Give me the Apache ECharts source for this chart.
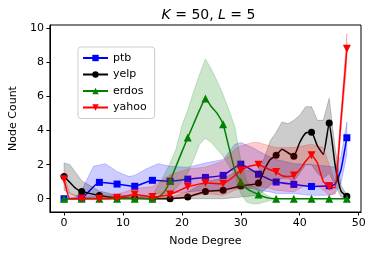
<!DOCTYPE html>
<html><head><meta charset="utf-8">
<script src="https://cdn.jsdelivr.net/npm/echarts@6/dist/echarts.min.js"></script>
<style>html,body{margin:0;padding:0;background:#fff}#c{width:374px;height:255px}</style>
</head><body><div id="c"></div>
<script>
// ---- data ----
const markerDegrees = [0,3,6,9,12,15,18,21,24,27,30,33,36,39,42,45,48];
const xTicks = [0,10,20,30,40,50];
const yTicks = [0,2,4,6,8,10];

const ptbX    = [0,3,6,9,12,15,18,21,24,27,30,33,36,39,42,45,46,47,48];
const ptbMean = [0.0,0.05,0.96,0.86,0.73,1.08,1.03,1.15,1.25,1.37,2.03,1.44,0.98,0.84,0.72,0.76,0.85,1.7,3.58];
const ptbBandX  = [0,2,3,5,7,9,11,12,14,16,18,21,24,27,29,30,32,33,35,36,39,42,45,46,47,48];
const ptbUpper  = [0,0.1,0.5,1.9,2.06,1.6,1.3,1.37,1.76,2.06,1.9,1.85,2.1,2.3,3.2,3.3,3.0,2.8,2.45,2.3,2.06,2.0,1.9,1.85,2.5,4.5];
const ptbLower  = [0,0,0,0.1,0.2,0.2,0.2,0.2,0.2,0.3,0.3,0.4,0.5,0.5,0.6,0.6,0.6,0.5,0.4,0.3,0.3,0.2,0.2,0.3,0.9,2.6];

const yelpX    = [0,1,2,3,6,9,12,15,18,21,24,27,30,33,34,35,36,37,38,39,40,41,42,43,44,45,46,47,48];
const yelpMean = [1.31,0.95,0.6,0.43,0.19,0.05,0.03,0.0,0.0,0.1,0.43,0.5,0.75,0.92,1.7,2.3,2.55,2.9,2.7,2.5,3.3,3.85,3.9,3.1,2.6,4.45,2.0,0.45,0.14];
const yelpBandX = [0,1,3,6,9,12,15,18,21,24,27,30,33,34,35,36,37,38,39,40,41,42,43,44,45,46,47,48];
const yelpUpper = [2.1,2.0,1.05,0.45,0.2,0.15,0.1,0.1,0.4,1.0,1.2,1.7,1.6,2.4,3.4,3.9,4.5,4.4,4.6,4.9,5.4,5.4,4.6,4.6,5.9,3.0,0.8,0.2];
const yelpLower = [0.5,0.3,0,0,0,0,0,0,0,0,0,0.1,0.2,0.5,0.8,1.0,1.2,1.2,1.0,1.5,2.0,2.0,1.5,1.2,1.5,0.8,0.1,0.05];

const erdosX    = [0,3,6,9,12,15,16,17,18,19,20,21,22,23,24,25,26,27,28,29,30,31,32,33,34,35,36,39,42,45,48];
const erdosMean = [0,0,0,0,0,0,0.1,0.4,1.04,1.9,2.75,3.59,4.4,5.2,5.88,5.4,5.0,4.37,3.0,1.66,1.0,0.6,0.4,0.25,0.1,0.02,0,0,0,0,0];
const erdosBandX = [0,15,16,17,18,19,20,21,22,23,24,25,26,27,28,29,30,31,32,33,34,35,36,48];
const erdosUpper = [0,0.2,0.8,1.4,2.1,2.9,4.3,5.2,6.3,7.3,8.2,7.6,6.9,6.1,5.2,4.2,2.25,1.0,0.7,0.6,0.3,0.1,0,0];
const erdosLower = [0,0,0,0,0.2,0.6,1.0,1.5,2.3,3.2,3.55,3.3,2.9,2.5,1.9,1.37,0.3,-0.2,-0.3,-0.3,-0.2,-0.1,0,0];

const yahooX    = [0,1,3,6,9,12,15,18,21,24,27,30,31,32,33,34,35,36,37,38,39,40,41,42,43,44,45,46,47,48];
const yahooMean = [1.15,0.0,0.0,0.0,0.05,0.25,0.1,0.25,0.7,0.92,0.88,1.65,1.85,1.95,2.0,1.85,1.7,1.57,1.35,1.3,1.37,1.7,2.2,2.55,2.1,1.0,0.72,0.65,4.6,8.8];
const yahooBandX = [0,1,3,6,9,12,15,18,21,24,27,29,30,32,33,35,36,39,42,44,45,46,47,48];
const yahooUpper = [1.4,0.3,0.1,0.1,0.25,0.6,0.7,1.4,1.75,1.85,2.2,2.9,3.1,3.3,3.3,3.1,3.0,3.0,3.2,3.0,2.0,1.0,5.0,9.7];
const yahooLower = [0.9,0,0,0,0,0,0,0,0.1,0.3,0.2,0.5,0.6,0.7,0.7,0.6,0.5,0.4,1.0,0.5,0.2,0.3,4.0,7.9];

// ---- chart ----
const FONT = 'DejaVu Sans';
function pts(xs, ys) {
  return xs.map((x, i) => markerDegrees.includes(x) ? [x, ys[i]] : {value: [x, ys[i]], symbol: 'none'});
}
function band(name, xs, lo, hi, rgb, z) {
  return {
    type: 'custom', name: name, z: z, silent: true, clip: true, animation: false,
    data: [[xs[0], lo[0]]],
    renderItem: function (params, api) {
      const p = [];
      for (let i = 0; i < xs.length; i++) p.push(api.coord([xs[i], hi[i]]));
      for (let i = xs.length - 1; i >= 0; i--) p.push(api.coord([xs[i], lo[i]]));
      return {type: 'polygon', shape: {points: p},
        style: {fill: 'rgba(' + rgb + ',0.2)', stroke: 'rgba(' + rgb + ',0.2)', lineWidth: 1}};
    }
  };
}
function line(name, xs, ys, color, symbol, size, z) {
  return {
    type: 'line', name: name, z: z, data: pts(xs, ys), symbol: symbol, symbolSize: size,
    showAllSymbol: true, smooth: 0.15, animation: false,
    lineStyle: {color: color, width: 1.5}, itemStyle: {color: color, borderWidth: 0}
  };
}
const downTri = 'path://M0,0 L10,0 L5,9 Z';

const chart = echarts.init(document.getElementById('c'));
chart.setOption({
  animation: false,
  backgroundColor: '#fff',
  title: {
    text: '{i|K} = 50, {i|L} = 5', left: 203.5, textAlign: 'center', top: 3,
    textStyle: {fontFamily: FONT, fontSize: 14, fontWeight: 'normal', color: '#000',
      rich: {i: {fontFamily: FONT, fontSize: 14, fontStyle: 'italic', color: '#000'}}}
  },
  grid: {left: 46, top: 25, width: 315, height: 187, show: true, borderColor: '#000', borderWidth: 1, backgroundColor: 'transparent'},
  legend: {
    data: ['ptb', 'yelp', 'erdos', 'yahoo'], orient: 'vertical', left: 78, top: 47,
    itemWidth: 25, itemHeight: 8, itemGap: 2.5,
    padding: [4, 8, 4, 4], borderColor: '#cccccc', borderWidth: 1, borderRadius: 3,
    backgroundColor: 'rgba(255,255,255,0.8)',
    textStyle: {fontFamily: FONT, fontSize: 11, color: '#000', lineHeight: 14}
  },
  xAxis: {
    type: 'value', min: -2.4, max: 50.4,
    name: 'Node Degree', nameLocation: 'middle', nameGap: 24,
    nameTextStyle: {fontFamily: FONT, fontSize: 11, color: '#000'},
    axisLine: {show: true, onZero: false, lineStyle: {color: '#000', width: 1}},
    axisTick: {show: true, length: 3.5, customValues: xTicks, lineStyle: {color: '#000'}},
    axisLabel: {customValues: xTicks, margin: 6, fontFamily: FONT, fontSize: 11, color: '#000'},
    splitLine: {show: false}
  },
  yAxis: {
    type: 'value', min: -0.78, max: 10.2,
    name: 'Node Count', nameLocation: 'middle', nameGap: 24, nameRotate: 90,
    nameTextStyle: {fontFamily: FONT, fontSize: 11, color: '#000'},
    axisLine: {show: true, onZero: false, lineStyle: {color: '#000', width: 1}},
    axisTick: {show: true, length: 3.5, customValues: yTicks, lineStyle: {color: '#000'}},
    axisLabel: {customValues: yTicks, margin: 6, fontFamily: FONT, fontSize: 11, color: '#000'},
    splitLine: {show: false}
  },
  series: [
    band('ptb band', ptbBandX, ptbLower, ptbUpper, '0,0,255', 1),
    line('ptb', ptbX, ptbMean, '#0000ff', 'rect', 7, 2),
    band('yelp band', yelpBandX, yelpLower, yelpUpper, '0,0,0', 3),
    line('yelp', yelpX, yelpMean, '#000000', 'circle', 7, 4),
    band('erdos band', erdosBandX, erdosLower, erdosUpper, '0,128,0', 5),
    line('erdos', erdosX, erdosMean, '#008000', 'triangle', 8, 6),
    band('yahoo band', yahooBandX, yahooLower, yahooUpper, '255,0,0', 7),
    line('yahoo', yahooX, yahooMean, '#ff0000', downTri, 8, 8)
  ]
});
</script></body></html>
